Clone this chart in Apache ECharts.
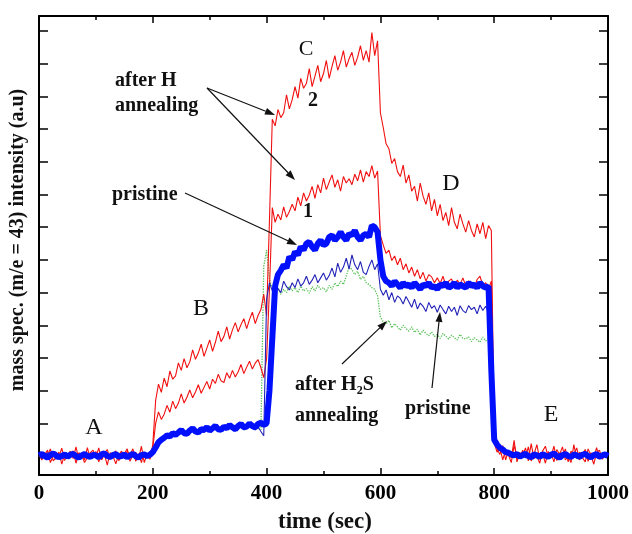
<!DOCTYPE html>
<html><head><meta charset="utf-8">
<script src="https://cdn.jsdelivr.net/npm/echarts@6/dist/echarts.min.js"></script>
<style>html,body{margin:0;padding:0;background:#fff}#c{width:632px;height:534px}</style>
</head><body><div id="c"></div>
<script>
// sampling of the traces: one reading every 5 s from t = 0 s
const T_START = 0, T_STEP = 5;
const xTickLabels = [0, 200, 400, 600, 800, 1000];
const yTickValues = [0,1,2,3,4,5,6,7,8,9,10,11,12,13];

// after H annealing, curve 2 (upper red)
const red2 = [
 0.05,-0.12,0.10,0.02,0.22,-0.15,-0.04,0.12,-0.25,0.06,
 0.00,0.15,-0.08,0.28,-0.10,0.04,-0.20,-0.05,0.10,0.18,
 -0.06,0.25,-0.12,0.05,-0.28,0.10,0.02,0.16,-0.14,-0.02,
 0.08,0.22,-0.16,0.03,0.12,-0.09,0.30,-0.20,0.06,-0.10,
 0.35,1.70,2.20,1.95,2.38,2.12,2.60,2.35,2.45,2.85,
 2.62,2.98,2.70,2.88,3.25,2.96,3.15,3.42,3.05,3.30,
 3.55,3.20,3.48,3.82,3.50,3.66,3.95,3.58,3.86,4.08,
 3.80,4.02,4.20,3.90,4.18,4.40,4.05,4.30,4.48,4.95,
 4.30,7.20,10.30,10.10,10.60,10.35,10.50,11.05,10.62,10.90,
 11.30,10.95,11.55,11.25,11.40,11.85,11.30,11.62,11.95,11.45,
 11.70,12.10,11.55,11.92,12.25,11.80,12.05,12.40,11.90,12.15,
 12.35,11.95,12.20,12.55,12.10,12.40,12.05,12.95,12.25,12.70,
 10.50,10.05,9.55,9.40,8.95,9.10,8.70,8.55,8.90,8.35,
 8.60,8.10,8.25,7.80,8.35,7.95,7.70,8.05,7.50,7.85,
 7.35,7.70,7.20,7.45,7.05,7.60,7.15,6.95,7.40,7.10,
 6.85,7.20,6.90,6.70,7.10,6.80,7.15,6.65,7.05,6.90,
 0.60,0.22,0.05,0.32,-0.12,0.15,-0.05,0.48,-0.18,0.10,
 0.02,0.25,-0.15,0.38,-0.08,0.00,-0.22,0.15,0.30,-0.05,
 0.08,-0.18,0.20,0.05,0.28,-0.12,0.00,-0.20,0.35,-0.08,
 0.12,-0.05,-0.18,0.22,0.02,-0.25,0.10,0.18,-0.10,0.04,
 0.00
];
// after H annealing, curve 1 (lower red)
const red1 = [
 0.08,-0.10,0.04,0.18,-0.20,0.00,0.12,-0.02,0.24,-0.14,
 0.05,-0.06,0.16,-0.22,0.10,0.03,-0.12,0.26,-0.08,0.02,
 0.14,-0.18,0.06,0.10,0.20,-0.10,0.00,-0.24,0.04,0.15,
 -0.08,0.15,0.04,0.22,-0.16,0.07,-0.20,0.12,-0.02,0.10,
 0.25,1.00,1.35,1.12,1.28,1.55,1.34,1.68,1.45,1.62,
 1.90,1.62,1.80,2.02,1.78,1.96,2.18,1.92,2.10,2.28,
 2.05,2.35,2.22,2.50,2.30,2.25,2.55,2.38,2.62,2.42,
 2.58,2.80,2.52,2.72,2.90,2.66,2.84,2.95,2.70,2.40,
 2.98,5.10,7.60,7.15,7.40,7.22,7.62,7.30,7.48,7.70,
 7.50,7.92,7.65,8.05,7.80,7.98,8.25,7.88,8.30,8.05,
 8.50,8.15,8.38,8.60,8.22,8.45,8.10,8.55,8.35,8.48,
 8.30,8.62,8.42,8.75,8.38,8.70,8.55,8.88,8.50,8.72,
 6.75,6.45,6.20,6.30,5.98,6.12,5.85,6.05,5.70,5.88,
 5.60,5.78,5.50,5.70,5.42,5.62,5.35,5.55,5.48,5.30,
 5.45,5.28,5.50,5.22,5.35,5.42,5.18,5.38,5.25,5.45,
 5.20,5.36,5.28,5.15,5.40,5.50,5.22,5.30,5.12,5.35,
 0.40,0.12,0.25,-0.12,0.18,0.04,-0.20,0.32,0.02,-0.08,
 0.18,-0.05,0.28,-0.15,0.06,0.35,-0.10,0.08,-0.22,0.14,
 0.00,0.30,-0.14,0.10,-0.05,0.22,-0.18,0.15,0.04,0.25,
 -0.12,0.05,0.20,-0.16,0.10,-0.04,0.26,-0.10,0.08,-0.02,
 0.08
];
// pristine (thick blue)
const blueThick = [
 0.02,0.06,0.00,-0.05,0.03,0.08,0.02,-0.04,0.00,0.05,
 -0.02,0.04,0.07,0.00,-0.05,0.02,0.06,0.00,-0.03,0.04,
 0.02,-0.04,0.05,0.08,0.00,-0.03,0.03,0.06,-0.02,0.00,
 0.05,-0.04,0.02,0.07,0.00,-0.05,0.03,0.05,0.00,0.04,
 0.12,0.26,0.42,0.50,0.56,0.63,0.60,0.70,0.65,0.72,
 0.80,0.70,0.68,0.78,0.85,0.75,0.72,0.82,0.80,0.88,
 0.78,0.85,0.92,0.82,0.80,0.90,0.85,0.95,0.88,0.82,
 0.92,0.98,0.88,0.90,1.00,0.92,0.88,0.98,1.02,0.95,
 1.00,2.00,3.60,5.20,5.55,5.68,5.85,5.75,6.10,6.00,
 6.25,6.15,6.40,6.30,6.50,6.55,6.40,6.30,6.50,6.60,
 6.45,6.50,6.70,6.75,6.60,6.70,6.85,6.70,6.60,6.80,
 6.75,6.90,6.70,6.60,6.75,6.80,6.70,7.05,7.00,6.85,
 6.00,5.50,5.35,5.30,5.20,5.35,5.25,5.15,5.30,5.20,
 5.25,5.15,5.30,5.20,5.10,5.25,5.20,5.30,5.15,5.20,
 5.10,5.25,5.20,5.30,5.15,5.20,5.30,5.15,5.25,5.20,
 5.15,5.30,5.20,5.25,5.15,5.30,5.20,5.15,5.20,2.60,
 0.50,0.35,0.25,0.20,0.12,0.10,0.05,0.02,0.06,-0.02,
 0.03,0.07,0.00,-0.04,0.05,0.02,-0.03,0.06,0.01,-0.02,
 0.04,0.08,0.00,-0.05,0.03,0.06,0.00,-0.03,0.05,0.02,
 -0.02,0.04,0.07,0.00,-0.04,0.03,0.06,-0.02,0.02,0.05,
 0.00
];
// pristine (thin blue)
const blueThin = [
 0.05,-0.08,0.03,0.10,-0.06,0.02,-0.10,0.06,0.00,0.08,
 -0.05,0.04,0.10,-0.08,0.02,0.07,-0.04,0.00,0.09,-0.06,
 0.03,0.08,-0.07,0.05,0.00,-0.09,0.06,0.02,-0.05,0.10,
 0.00,-0.06,0.08,0.03,-0.08,0.05,0.00,0.07,-0.04,0.02,
 0.10,0.22,0.38,0.45,0.52,0.58,0.55,0.64,0.60,0.66,
 0.70,0.62,0.66,0.72,0.75,0.68,0.70,0.76,0.72,0.80,
 0.74,0.78,0.84,0.76,0.75,0.82,0.80,0.86,0.80,0.76,
 0.84,0.88,0.80,0.85,0.90,0.84,0.80,0.88,0.75,0.62,
 4.80,5.30,5.05,5.28,5.12,5.00,5.35,5.18,5.08,5.30,
 5.15,5.42,5.20,5.30,5.50,5.25,5.38,5.55,5.30,5.45,
 5.60,5.38,5.52,5.75,5.48,5.90,5.62,5.78,6.05,5.72,
 6.15,5.85,5.70,5.95,5.62,5.55,5.80,6.00,5.70,5.88,
 5.10,4.92,5.08,4.78,5.00,4.70,4.90,4.82,4.65,4.88,
 4.72,4.55,4.80,4.50,4.68,4.58,4.42,4.70,4.52,4.60,
 4.40,4.62,4.48,4.35,4.58,4.42,4.55,4.30,4.60,4.45,
 4.38,4.60,4.48,4.55,4.35,4.62,4.45,4.58,4.40,4.52,
 0.45,0.30,0.20,0.12,0.08,0.02,0.06,-0.04,0.05,0.00,
 0.04,-0.06,0.08,0.02,-0.05,0.06,0.00,-0.03,0.07,0.02,
 -0.04,0.05,0.00,0.08,-0.06,0.03,0.06,-0.02,0.04,0.00,
 0.06,-0.04,0.02,0.07,-0.05,0.03,0.00,0.05,-0.03,0.02,
 0.00
];
// after H2S annealing (green dotted)
const green = [
 0.02,-0.05,0.06,0.00,-0.04,0.05,0.01,-0.06,0.04,0.00,
 -0.03,0.05,0.02,-0.05,0.06,0.00,-0.02,0.04,-0.06,0.03,
 0.05,-0.02,0.00,0.06,-0.05,0.03,0.01,-0.04,0.05,0.00,
 -0.03,0.04,0.06,-0.02,0.00,0.05,-0.05,0.02,0.04,0.00,
 0.10,0.25,0.40,0.48,0.55,0.60,0.58,0.66,0.62,0.70,
 0.74,0.68,0.70,0.76,0.80,0.72,0.74,0.80,0.78,0.84,
 0.78,0.82,0.88,0.80,0.78,0.86,0.84,0.90,0.84,0.80,
 0.88,0.92,0.85,0.88,0.94,0.88,0.85,0.90,0.80,5.80,
 6.30,5.40,5.10,5.00,5.15,4.95,5.10,5.00,5.20,5.05,
 5.15,5.00,5.20,5.05,5.12,4.98,5.18,5.05,5.22,5.10,
 5.15,5.02,5.22,5.10,5.30,5.18,5.35,5.25,5.50,5.80,
 5.70,5.55,5.65,5.40,5.50,5.30,5.25,5.15,5.10,4.90,
 4.25,4.10,4.05,4.15,3.92,4.05,3.95,3.85,4.00,3.90,
 3.82,3.95,3.78,3.88,3.70,3.85,3.75,3.68,3.80,3.66,
 3.72,3.60,3.75,3.66,3.58,3.70,3.62,3.55,3.72,3.60,
 3.58,3.65,3.50,3.62,3.55,3.48,3.64,3.52,3.60,3.50,
 0.40,0.25,0.15,0.10,0.05,0.00,0.04,-0.03,0.02,0.00,
 0.03,-0.04,0.05,0.00,-0.02,0.04,0.01,-0.05,0.03,0.00,
 0.02,0.05,-0.03,0.00,0.04,-0.02,0.03,0.00,-0.04,0.02,
 0.00,0.04,-0.02,0.03,0.00,-0.03,0.05,0.01,-0.02,0.03,
 0.00
];

function pairs(arr){ return arr.map((v,i)=>[T_START + i*T_STEP, v]); }

const FONT = '"Liberation Serif", "Times New Roman", serif';
const chart = echarts.init(document.getElementById('c'), null, {renderer:'canvas'});

function txt(x, y, s, size, weight, align, extra){
  return Object.assign({type:'text', x:x, y:y, z:100,
    style:{text:s, font: (weight||'normal') + ' ' + size + 'px ' + FONT, fill:'#111',
      align: align||'left', verticalAlign:'middle'}}, extra||{});
}
function arrow(x1,y1,x2,y2){
  const a = Math.atan2(y2-y1, x2-x1), L = 10, W = 3.5;
  const bx = x2 - L*Math.cos(a), by = y2 - L*Math.sin(a);
  const px = -Math.sin(a)*W, py = Math.cos(a)*W;
  return [
    {type:'line', z:100, shape:{x1:x1,y1:y1,x2:bx,y2:by}, style:{stroke:'#111', lineWidth:1.2}},
    {type:'polygon', z:100, shape:{points:[[x2,y2],[bx+px,by+py],[bx-px,by-py]]}, style:{fill:'#111'}}
  ];
}

const graphics = [
  txt(94, 428, 'A', 24, 'normal', 'center'),
  txt(201, 309, 'B', 24, 'normal', 'center'),
  txt(306, 49, 'C', 22, 'normal', 'center'),
  txt(451, 184, 'D', 24, 'normal', 'center'),
  txt(551, 415, 'E', 24, 'normal', 'center'),
  txt(313, 101, '2', 20, 'bold', 'center'),
  txt(308, 212, '1', 20, 'bold', 'center'),
  txt(115, 81, 'after H', 20, 'bold'),
  txt(115, 106, 'annealing', 20, 'bold'),
  txt(112, 195, 'pristine', 20, 'bold'),
  {type:'text', x:295, y:385, z:100, style:{
    text:'{a|after H}{s|2}{a|S}', align:'left', verticalAlign:'middle', fill:'#111',
    rich:{a:{font:'bold 20px ' + FONT, fill:'#111', height:22},
          s:{font:'bold 12px ' + FONT, fill:'#111', padding:[12,0,0,0]}}}},
  txt(295, 416, 'annealing', 20, 'bold'),
  txt(405, 409, 'pristine', 20, 'bold'),
  txt(325, 522, 'time (sec)', 23, 'bold', 'center'),
  txt(18, 240, 'mass spec. (m/e = 43) intensity (a.u)', 20, 'bold', 'center', {rotation: Math.PI/2}),
].concat(
  arrow(207, 88, 275, 115),
  arrow(207, 88, 295, 180),
  arrow(185, 193, 297, 245),
  arrow(342, 364, 387, 321),
  arrow(432, 388, 440, 312)
);

const axisLineStyle = {color:'#000', width:2};
const xBase = {
  type:'value', min:0, max:1000, interval:200,
  axisLine:{show:true, onZero:false, lineStyle:axisLineStyle},
  axisTick:{show:true, inside:true, length:7, lineStyle:{color:'#000', width:1.5}},
  minorTick:{show:true, splitNumber:2, length:4, lineStyle:{color:'#000', width:1.5}},
  splitLine:{show:false}, minorSplitLine:{show:false}
};
const yBase = {
  type:'value', min:-0.58, max:13.46,
  axisLine:{show:true, onZero:false, lineStyle:axisLineStyle},
  axisTick:{show:true, inside:true, length:9, customValues:yTickValues, lineStyle:{color:'#000', width:1.5}},
  axisLabel:{show:false, customValues:yTickValues},
  splitLine:{show:false}
};

function lineSeries(name, arr, color, width, type){
  return {type:'line', name:name, data:pairs(arr), showSymbol:false, symbol:'none',
    lineStyle:{color:color, width:width, type:type||'solid'}, itemStyle:{color:color},
    animation:false, silent:true};
}

chart.setOption({
  animation:false,
  backgroundColor:'#fff',
  grid:{left:39, right:21, top:16, bottom:59, containLabel:false},
  xAxis:[
    Object.assign({}, xBase, {position:'bottom',
      axisLabel:{show:true, margin:8, color:'#000', fontFamily:FONT, fontWeight:'bold', fontSize:21,
        formatter: v => xTickLabels.indexOf(v) >= 0 ? String(v) : ''}}),
    Object.assign({}, xBase, {position:'top', axisLabel:{show:false}})
  ],
  yAxis:[
    Object.assign({}, yBase, {position:'left'}),
    Object.assign({}, yBase, {position:'right'})
  ],
  series:[
    lineSeries('after H2S annealing', green, '#55c055', 1.3, 'dotted'),
    lineSeries('after H annealing 2', red2, '#f01010', 1.1),
    lineSeries('after H annealing 1', red1, '#f01010', 1.1),
    lineSeries('pristine (thin)', blueThin, '#2222b8', 1.1),
    lineSeries('pristine', blueThick, '#0010ff', 6)
  ],
  graphic: graphics
});
</script>
</body></html>
